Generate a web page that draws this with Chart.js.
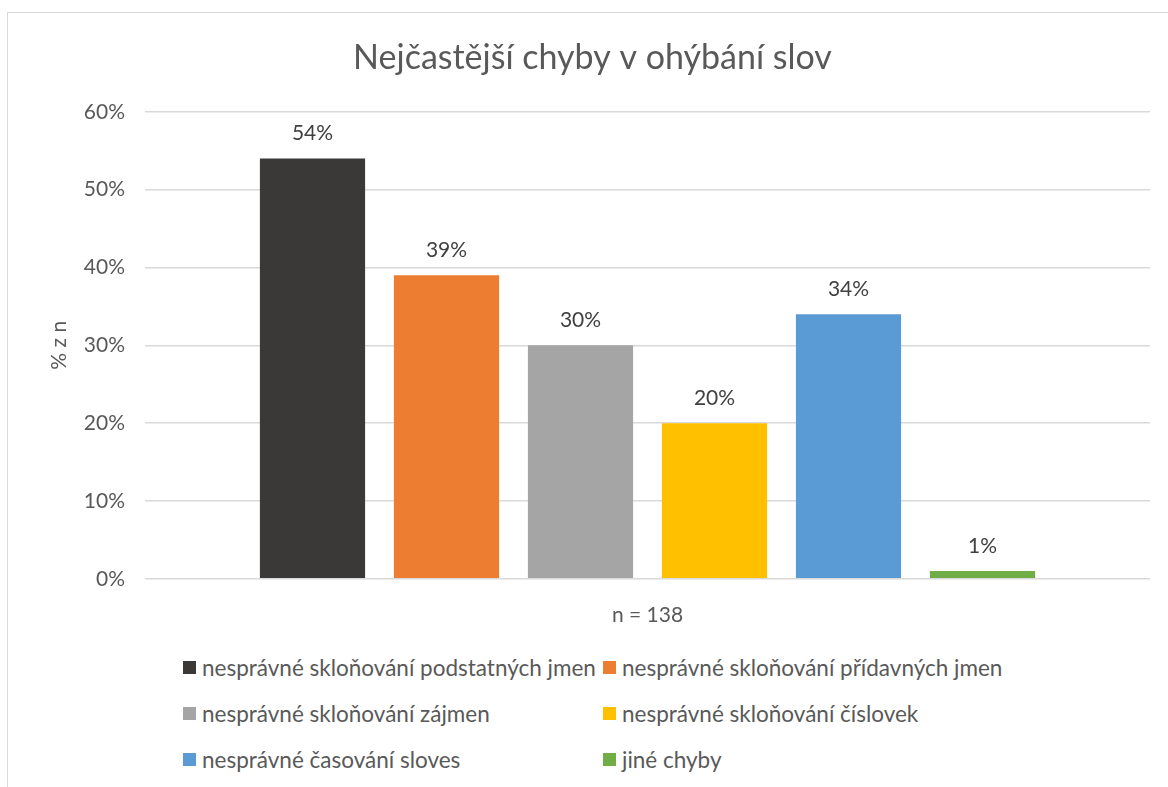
<!DOCTYPE html>
<html>
<head>
<meta charset="utf-8">
<script src="https://cdn.jsdelivr.net/npm/chart.js@4"></script>
<style>
  body { margin: 0; background: #fff; font-family: Lato, sans-serif; }
  #frame { position: absolute; left: 7px; top: 12px; width: 1175px; height: 790px; border: 1px solid #d9d9d9; }
  #wrap { position: absolute; left: 0; top: 0; width: 1161px; height: 631px; }
  #legend { position: absolute; left: 175px; top: 642px; display: grid; grid-template-columns: 420px 420px; row-gap: 22px; }
  .item { display: flex; align-items: center; color: #595959; font-size: 22.5px; height: 24px; white-space: nowrap; }
  .sw { width: 13px; height: 13px; margin-right: 6px; }
</style>
</head>
<body>
<div id="frame">
  <div id="wrap"><canvas id="bar-chart"></canvas></div>
  <div id="legend"></div>
</div>
<script>
var categories = ["n = 138"];
var series_names = [
  "nesprávné skloňování podstatných jmen",
  "nesprávné skloňování přídavných jmen",
  "nesprávné skloňování zájmen",
  "nesprávné skloňování číslovek",
  "nesprávné časování sloves",
  "jiné chyby"
];
var series_values = [54, 39, 30, 20, 34, 1];
var barColors = ["#3b3838", "#ed7d31", "#a5a5a5", "#ffc000", "#5b9bd5", "#70ad47"];
var tick_values = [0, 10, 20, 30, 40, 50, 60];

var datasets = series_names.map(function (name, i) {
  return {
    label: name,
    data: [series_values[i]],
    backgroundColor: barColors[i],
    categoryPercentage: 0.8,
    barPercentage: 0.785
  };
});

// value labels above bars
var valueLabels = {
  id: "valueLabels",
  afterDatasetsDraw: function (chart) {
    var ctx = chart.ctx;
    ctx.save();
    ctx.font = "21px Lato";
    ctx.fillStyle = "#404040";
    ctx.textAlign = "center";
    ctx.textBaseline = "middle";
    chart.data.datasets.forEach(function (ds, i) {
      chart.getDatasetMeta(i).data.forEach(function (bar, j) {
        ctx.fillText(ds.data[j] + "%", bar.x, bar.y - 25);
      });
    });
    ctx.restore();
  }
};

new Chart("bar-chart", {
  type: "bar",
  data: { labels: categories, datasets: datasets },
  plugins: [valueLabels],
  options: {
    responsive: true,
    maintainAspectRatio: false,
    animation: false,
    layout: { padding: { left: 27, right: 19, top: 0, bottom: 0 } },
    plugins: {
      legend: { display: false },
      tooltip: { enabled: false },
      title: {
        display: true,
        text: "Nejčastější chyby v ohýbání slov",
        color: "#595959",
        font: { family: "Lato", size: 34, weight: "normal" },
        padding: { top: 25, bottom: 33 }
      }
    },
    scales: {
      x: {
        grid: { display: false },
        border: { display: false },
        ticks: { color: "#595959", font: { family: "Lato", size: 21 }, padding: 16 }
      },
      y: {
        min: 0,
        max: 60,
        afterBuildTicks: function (axis) {
          axis.ticks = tick_values.map(function (v) { return { value: v }; });
        },
        afterFit: function (axis) { axis.width = 110; },
        border: { display: false },
        grid: { color: "#d9d9d9", lineWidth: 1.5, drawTicks: false },
        ticks: {
          color: "#595959",
          font: { family: "Lato", size: 21 },
          padding: 20,
          callback: function (v) { return v + "%"; }
        },
        title: {
          display: true,
          text: "% z n",
          color: "#595959",
          font: { family: "Lato", size: 21 },
          padding: { top: 12, bottom: 0 }
        }
      }
    }
  }
});

var legend = document.getElementById("legend");
series_names.forEach(function (name, i) {
  var it = document.createElement("div");
  it.className = "item";
  it.innerHTML = '<span class="sw" style="background:' + barColors[i] + '"></span>' + name;
  legend.appendChild(it);
});
</script>
</body>
</html>
